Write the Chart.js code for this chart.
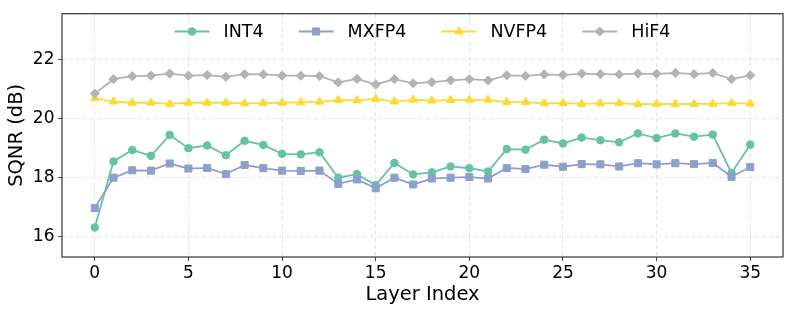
<!DOCTYPE html>
<html lang="en">
<head>
    <meta charset="UTF-8">
    <title>SQNR per layer</title>
    <script src="https://cdn.jsdelivr.net/npm/chart.js@4.4.1/dist/chart.umd.min.js"></script>
    <style>
        html, body { margin: 0; padding: 0; background: #fff; }
        canvas { display: block; }
    </style>
</head>
<body>
    <canvas id="myChart" width="793" height="314"></canvas>
    <script>
        // layer index 0..35
        const layers = [0, 1, 2, 3, 4, 5, 6, 7, 8, 9, 10, 11, 12, 13, 14, 15, 16, 17,
            18, 19, 20, 21, 22, 23, 24, 25, 26, 27, 28, 29, 30, 31, 32, 33, 34, 35];

        const int4 = [16.30, 18.54, 18.93, 18.73, 19.44, 18.99, 19.08, 18.75, 19.24, 19.10, 18.80, 18.78,
            18.85, 17.99, 18.11, 17.74, 18.49, 18.10, 18.17, 18.37, 18.31, 18.20, 18.96, 18.94,
            19.28, 19.15, 19.35, 19.26, 19.19, 19.49, 19.33, 19.49, 19.38, 19.45, 18.15, 19.11];

        const mxfp4 = [16.96, 17.99, 18.24, 18.23, 18.47, 18.30, 18.32, 18.11, 18.42, 18.31, 18.23, 18.22,
            18.23, 17.78, 17.93, 17.63, 17.99, 17.76, 17.96, 17.99, 18.01, 17.96, 18.32, 18.28,
            18.43, 18.36, 18.45, 18.44, 18.37, 18.48, 18.44, 18.48, 18.45, 18.49, 18.02, 18.35];

        const nvfp4 = [20.69, 20.57, 20.53, 20.53, 20.49, 20.53, 20.53, 20.53, 20.51, 20.52, 20.53, 20.54,
            20.56, 20.62, 20.61, 20.66, 20.57, 20.63, 20.60, 20.62, 20.63, 20.63, 20.55, 20.55,
            20.51, 20.52, 20.49, 20.51, 20.52, 20.48, 20.49, 20.48, 20.49, 20.49, 20.52, 20.50];

        const hif4 = [20.84, 21.33, 21.43, 21.45, 21.52, 21.45, 21.47, 21.41, 21.50, 21.49, 21.45, 21.45,
            21.43, 21.22, 21.34, 21.15, 21.33, 21.19, 21.23, 21.29, 21.33, 21.29, 21.46, 21.44,
            21.49, 21.47, 21.52, 21.50, 21.49, 21.52, 21.51, 21.54, 21.50, 21.54, 21.33, 21.46];

        const xTicks = [0, 5, 10, 15, 20, 25, 30, 35];
        const yTicks = [16, 18, 20, 22];

        const FONT = "'DejaVu Sans', sans-serif";

        function toPoints(values) {
            return values.map((v, i) => ({ x: layers[i], y: v }));
        }

        function series(label, values, color, style, radius, order) {
            return {
                label: label,
                data: toPoints(values),
                borderColor: color,
                backgroundColor: color,
                pointBackgroundColor: color,
                pointBorderColor: color,
                pointBorderWidth: 1,
                pointStyle: style,
                pointRadius: radius,
                borderWidth: 1.8,
                tension: 0,
                order: order
            };
        }

        // legend drawn like matplotlib: short line with marker, then label
        const lineLegend = {
            id: 'lineLegend',
            afterDraw(chart) {
                const ctx = chart.ctx;
                const area = chart.chartArea;
                const fs = 17.5;
                const handle = 35, textPad = 14, colGap = 35;
                ctx.save();
                ctx.font = fs + 'px ' + FONT;
                const items = chart.data.datasets.map(ds => ({
                    ds: ds, w: ctx.measureText(ds.label).width
                }));
                let total = 0;
                items.forEach((it, i) => {
                    total += handle + textPad + it.w + (i < items.length - 1 ? colGap : 0);
                });
                let x = (area.left + area.right) / 2 - total / 2;
                const y = 31.5;
                items.forEach(it => {
                    const ds = it.ds;
                    ctx.strokeStyle = ds.borderColor;
                    ctx.lineWidth = ds.borderWidth;
                    ctx.beginPath();
                    ctx.moveTo(x, y);
                    ctx.lineTo(x + handle, y);
                    ctx.stroke();
                    ctx.fillStyle = ds.backgroundColor;
                    ctx.lineWidth = 1;
                    Chart.helpers.drawPoint(ctx, {
                        pointStyle: ds.pointStyle, radius: ds.pointRadius, borderWidth: 1
                    }, x + handle / 2, y);
                    ctx.fillStyle = '#000';
                    ctx.textBaseline = 'middle';
                    ctx.textAlign = 'left';
                    ctx.fillText(ds.label, x + handle + textPad, y + 1);
                    x += handle + textPad + it.w + colGap;
                });
                ctx.restore();
            }
        };

        // box around the axes
        const frame = {
            id: 'frame',
            afterDatasetsDraw(chart) {
                const a = chart.chartArea;
                const ctx = chart.ctx;
                ctx.save();
                ctx.strokeStyle = '#444';
                ctx.lineWidth = 1.3;
                ctx.strokeRect(a.left, a.top, a.right - a.left, a.bottom - a.top);
                ctx.restore();
            }
        };

        const gridOpts = {
            color: '#dcdcdc',
            lineWidth: 0.8,
            tickColor: '#444',
            tickBorderDash: [],
            tickLength: 4,
            tickWidth: 1
        };

        const ctx = document.getElementById('myChart').getContext('2d');
        const myChart = new Chart(ctx, {
            type: 'line',
            data: {
                datasets: [
                    series('INT4', int4, '#66c2a5', 'circle', 3.8, 4),
                    series('MXFP4', mxfp4, '#8da0cb', 'rect', 5, 3),
                    series('NVFP4', nvfp4, '#ffd92f', 'triangle', 4.8, 2),
                    series('HiF4', hif4, '#b3b3b3', 'rectRot', 4.6, 1)
                ]
            },
            options: {
                responsive: false,
                animation: false,
                devicePixelRatio: 1,
                layout: { padding: { top: 7, right: 10, left: 0, bottom: 0 } },
                plugins: {
                    legend: { display: false },
                    tooltip: { enabled: false }
                },
                scales: {
                    x: {
                        type: 'linear',
                        min: -1.75,
                        max: 36.75,
                        afterBuildTicks: s => { s.ticks = xTicks.map(v => ({ value: v })); },
                        afterFit: s => { s.height = 57; },
                        ticks: {
                            color: '#000',
                            font: { family: FONT, size: 17 },
                            padding: 2,
                            maxRotation: 0
                        },
                        grid: gridOpts,
                        border: { display: false, dash: [4, 3] },
                        title: {
                            display: true,
                            text: 'Layer Index',
                            color: '#000',
                            font: { family: FONT, size: 19.5 },
                            padding: { top: 0, bottom: 7 }
                        }
                    },
                    y: {
                        min: 15.3,
                        max: 23.55,
                        afterBuildTicks: s => { s.ticks = yTicks.map(v => ({ value: v })); },
                        afterFit: s => { s.width = 62; },
                        ticks: {
                            color: '#000',
                            font: { family: FONT, size: 17 },
                            padding: 3.5
                        },
                        grid: gridOpts,
                        border: { display: false, dash: [4, 3] },
                        title: {
                            display: true,
                            text: 'SQNR (dB)',
                            color: '#000',
                            font: { family: FONT, size: 19.5 },
                            padding: { top: 5, bottom: 0 }
                        }
                    }
                }
            },
            plugins: [frame, lineLegend]
        });
    </script>
</body>
</html>
